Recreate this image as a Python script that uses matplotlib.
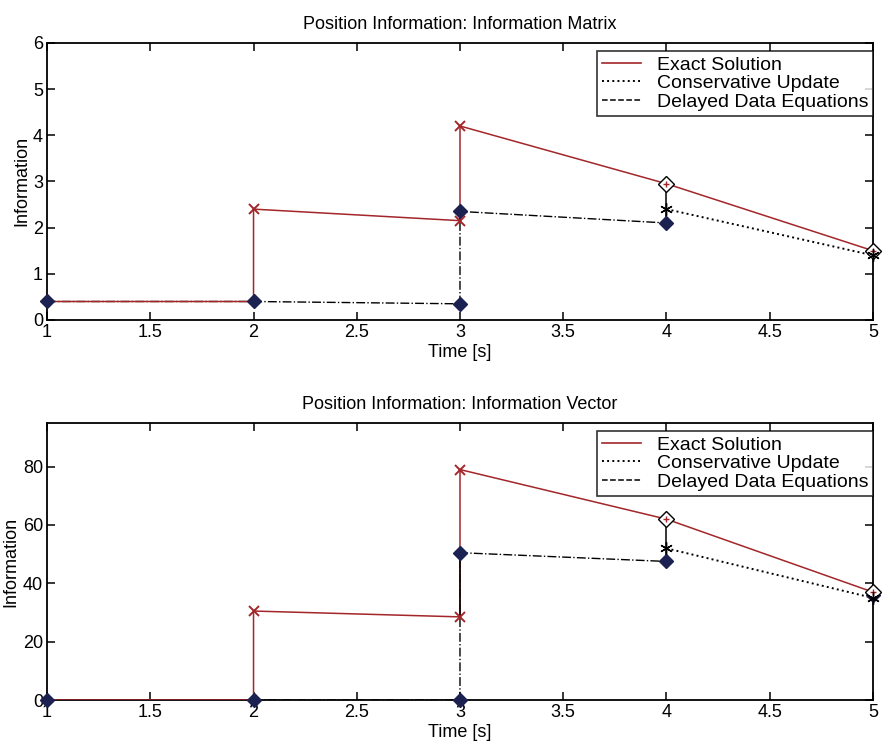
import numpy as np
import matplotlib
matplotlib.use("Agg")
import matplotlib.pyplot as plt
from matplotlib.lines import Line2D

plt.rcParams['font.family'] = ['Liberation Sans', 'DejaVu Sans']

# ---- top panel: information matrix ----
mat_exact_t = [1, 2, 2, 3, 3, 4, 5]
mat_exact_y = [0.4, 0.4, 2.4, 2.15, 4.2, 2.95, 1.5]
mat_cons_t = [4, 5]
mat_cons_y = [2.4, 1.4]
mat_delay_t = [1, 2, 3, 3, 4]
mat_delay_y = [0.4, 0.4, 0.35, 2.35, 2.1]
mat_link_t = [3, 3, 4, 4]            # solid black update connectors
mat_link_y = [2.15, 2.35, 2.95, 2.1]
mat_x_t = [2, 3, 3]
mat_x_y = [2.4, 2.15, 4.2]
mat_open_t = [4, 5]
mat_open_y = [2.95, 1.5]
mat_star_t = [4, 5]
mat_star_y = [2.4, 1.4]
mat_fill_t = [1, 2, 3, 3, 4, 5]
mat_fill_y = [0.4, 0.4, 0.35, 2.35, 2.1, 1.5]

# ---- bottom panel: information vector ----
vec_exact_t = [1, 2, 2, 3, 3, 4, 5]
vec_exact_y = [0, 0, 30.5, 28.5, 79, 62, 37]
vec_cons_t = [4, 5]
vec_cons_y = [52, 35]
vec_delay_t = [1, 2, 3, 3, 4]
vec_delay_y = [0, 0, 0, 50.5, 47.5]
vec_link_t = [3, 3, 4, 4]
vec_link_y = [28.5, 50.5, 62, 47.5]
vec_x_t = [2, 3, 3]
vec_x_y = [30.5, 28.5, 79]
vec_open_t = [4, 5]
vec_open_y = [62, 37]
vec_star_t = [4, 5]
vec_star_y = [52, 35]
vec_fill_t = [1, 2, 3, 3, 4, 5]
vec_fill_y = [0, 0, 0, 50.5, 47.5, 36]

red = '#a3262a'
navy = '#1b2150'
asterisk = (6, 2, 0)
fs = 13

fig = plt.figure(figsize=(8.88, 7.49), dpi=100)
ax1 = fig.add_axes([0.053, 0.5728, 0.930, 0.370])
ax2 = fig.add_axes([0.053, 0.0654, 0.930, 0.370])


def draw(ax, d, title, ylim, yticks):
    (et, ey, ct, cy, dt, dy, lt, ly, xt, xy, ot, oy, st, sy, ft, fy) = d
    ax.plot(dt, dy, '-.', color='black', lw=1.0, zorder=2)
    ax.plot(ct, cy, ':', color='black', lw=1.4, zorder=2)
    ax.plot(et, ey, '-', color=red, lw=1.1, zorder=3)
    for i in range(0, len(lt), 2):
        ax.plot(lt[i:i + 2], ly[i:i + 2], '-', color='black', lw=1.1, zorder=3)
    ax.plot(ft, fy, 'D', color=navy, ms=7, ls='none', zorder=4, clip_on=False)
    ax.plot(ot, oy, 'D', mfc='white', mec='black', ms=8, ls='none', zorder=5,
            clip_on=False)
    ax.plot(ot, oy, '+', color=red, ms=5, ls='none', zorder=6, clip_on=False)
    ax.plot(st, sy, marker=asterisk, color='black', ms=9, ls='none', zorder=6,
            clip_on=False)
    ax.plot(xt, xy, 'x', color=red, ms=7, mew=1.4, ls='none', zorder=6)

    ax.set_xlim(1, 5)
    ax.set_ylim(*ylim)
    ax.set_xticks([1, 1.5, 2, 2.5, 3, 3.5, 4, 4.5, 5])
    ax.set_xticklabels(['1', '1.5', '2', '2.5', '3', '3.5', '4', '4.5', '5'])
    ax.set_yticks(yticks)
    ax.tick_params(direction='in', top=True, right=True, length=6,
                   labelsize=fs, width=1.1, pad=3)
    for sp in ax.spines.values():
        sp.set_linewidth(1.3)
    ax.set_title(title, fontsize=fs, pad=10)
    ax.set_xlabel('Time [s]', fontsize=fs, labelpad=2)
    ax.set_ylabel('Information', fontsize=fs, labelpad=2)

    handles = [Line2D([], [], color=red, lw=1.2),
               Line2D([], [], color='black', ls=':', lw=1.4),
               Line2D([], [], color='black', ls='--', lw=1.1)]
    leg = ax.legend(handles, ['Exact Solution', 'Conservative Update',
                              'Delayed Data Equations'],
                    loc='upper right', bbox_to_anchor=(1.0, 0.97),
                    fontsize=fs + 1, frameon=True, fancybox=False,
                    edgecolor='black', handlelength=2.0, handletextpad=0.8,
                    borderpad=0.25, labelspacing=0.05, borderaxespad=0.0)
    leg.get_frame().set_linewidth(1.2)


draw(ax1, (mat_exact_t, mat_exact_y, mat_cons_t, mat_cons_y, mat_delay_t,
           mat_delay_y, mat_link_t, mat_link_y, mat_x_t, mat_x_y, mat_open_t,
           mat_open_y, mat_star_t, mat_star_y, mat_fill_t, mat_fill_y),
     'Position Information: Information Matrix', (0, 6), [0, 1, 2, 3, 4, 5, 6])
draw(ax2, (vec_exact_t, vec_exact_y, vec_cons_t, vec_cons_y, vec_delay_t,
           vec_delay_y, vec_link_t, vec_link_y, vec_x_t, vec_x_y, vec_open_t,
           vec_open_y, vec_star_t, vec_star_y, vec_fill_t, vec_fill_y),
     'Position Information: Information Vector', (0, 95), [0, 20, 40, 60, 80])

fig.savefig('out.png', dpi=100)
